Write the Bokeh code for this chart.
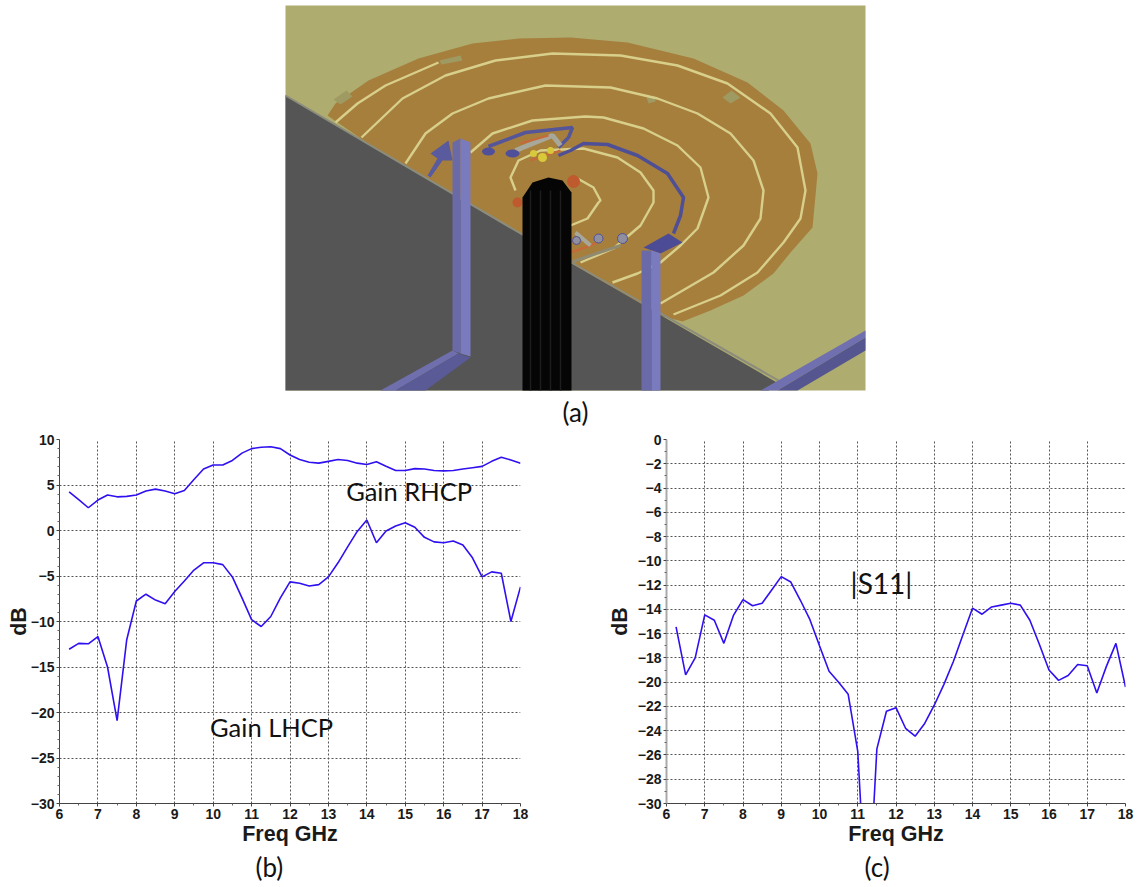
from bokeh.plotting import figure
from bokeh.layouts import column, row
from bokeh.embed import file_html
from bokeh.resources import INLINE
from bokeh.models import FixedTicker, Range1d, Title
from bokeh.core.properties import value

# ---------- chart data ----------
freq = [6.25 + 0.25 * i for i in range(48)]
gain_rhcp = [4.25, 3.4, 2.5, 3.35, 3.9, 3.7, 3.75, 3.9, 4.35, 4.55, 4.35, 4.05,
             4.4, 5.6, 6.75, 7.2, 7.2, 7.7, 8.5, 9.0, 9.15, 9.2, 9.0, 8.3,
             7.8, 7.5, 7.4, 7.6, 7.8, 7.7, 7.4, 7.25, 7.55, 7.05, 6.6, 6.6,
             6.8, 6.75, 6.6, 6.55, 6.6, 6.75, 6.9, 7.05, 7.6, 8.05, 7.75, 7.4]
gain_lhcp = [-13.05, -12.4, -12.45, -11.65, -15.0, -20.9, -12.0, -7.75, -7.0, -7.65, -8.05, -6.7,
             -5.55, -4.35, -3.55, -3.55, -3.75, -5.1, -7.4, -9.8, -10.55, -9.45, -7.4, -5.65,
             -5.8, -6.1, -5.95, -5.1, -3.55, -1.8, -0.1, 1.15, -1.35, -0.05, 0.5, 0.85,
             0.35, -0.75, -1.25, -1.35, -1.15, -1.6, -3.0, -5.1, -4.55, -4.7, -10.0, -6.2]
s11 = [-15.45, -19.4, -18.0, -14.45, -14.9, -16.8, -14.5, -13.2, -13.7, -13.5, -12.4, -11.3,
       -11.75, -13.25, -14.85, -17.0, -19.1, -20.0, -21.0, -25.7, -40.0, -25.5, -22.4, -22.1,
       -23.8, -24.45, -23.4, -21.9, -20.2, -18.3, -16.1, -13.9, -14.4, -13.8, -13.65, -13.5,
       -13.65, -14.9, -16.9, -19.0, -19.85, -19.45, -18.55, -18.65, -20.9, -18.7, -16.8, -20.4]
x_ticks = list(range(6, 19))
x_minor = [6.5 + i for i in range(12)]
b_ticks = [10, 5, 0, -5, -10, -15, -20, -25, -30]
b_minor = [v for v in range(-30, 11) if v % 5 != 0]
c_ticks = list(range(0, -31, -2))
c_minor = list(range(-1, -30, -2))

# ---------- illustration outline (a), in page pixels ----------
disk = [(327,115),(335,103),(368,80),(418,58),(472,43),(518,38),(570,37),(627,42),(693,58),(747,82),
        (783,110),(810,143),(817,173),(815,195),(812,227),(790,252),(773,273),(743,295),(710,310),
        (682,321),(600,300),(450,200)]
rings = [
    [(335,122),(357,103),(385,85),(438,62)],
    [(361,137),(402,98),(445,75),(495,60),(552,53),(620,55),(677,65),(727,83),(770,113),(797,147),
     (805,190),(800,218),(783,242),(757,272),(720,295),(673,314)],
    [(405,163),(425,133),(452,113),(488,98),(545,85),(610,87),(657,98),(697,113),(730,133),(753,160),
     (763,190),(760,218),(743,245),(713,272),(660,303)],
    [(470,152),(492,133),(532,120),(585,116),(603,117),(643,128),(677,145),(700,167),(708,197),
     (697,228),(680,245),(660,262),(637,273),(612,282)],
    [(515,190),(510,177),(518,160),(540,150),(583,148),(617,157),(640,172),(653,190),(653,202),
     (640,225),(613,248),(580,262)],
    [(577,178),(593,187),(600,200),(598,202),(587,218),(570,225)],
]
wedge = [(285,95),(527,237),(527,240),(571,263),(778,383),(768,390),(285,390)]
wedge_edge = [(285,95),(527,237),(571,262),(778,380)]
patches_a = [
    [(333,99),(346,90),(352,96),(340,104)],
    [(439,60),(460,55),(462,60),(441,64)],
    [(722,97),(731,90),(740,97),(730,103)],
    [(646,97),(654,95),(655,101),(648,103)],
]
xy = lambda pts, i: [q[i] for q in pts]


def ax_style(p, yticks, yminor, ylabel, label_standoff):
    for ax, maj, mnr in ((p.xaxis[0], x_ticks, x_minor), (p.yaxis[0], yticks, yminor)):
        ax.ticker = FixedTicker(ticks=maj, minor_ticks=mnr)
        ax.major_label_text_font = "Liberation Sans"
        ax.major_label_text_font_style = "bold"
        ax.major_label_text_font_size = "14px"
        ax.major_label_text_color = "#1a1a1a"
        ax.major_tick_out = 3
        ax.major_tick_in = 0
        ax.minor_tick_out = 2
        ax.minor_tick_in = 0
        ax.major_tick_line_color = "#444444"
        ax.minor_tick_line_color = "#666666"
        ax.axis_line_color = "#444444"
        ax.axis_label_text_font = "Liberation Sans"
        ax.axis_label_text_font_style = "bold"
        ax.axis_label_text_font_size = "21.5px"
        ax.axis_label_text_color = "#1a1a1a"
    p.xaxis[0].axis_label = "Freq GHz"
    p.yaxis[0].axis_label = ylabel
    p.xaxis[0].major_label_standoff = 2
    p.yaxis[0].major_label_standoff = 2
    p.xaxis[0].axis_label_standoff = 0
    p.yaxis[0].axis_label_standoff = label_standoff
    for g in (p.xgrid[0], p.ygrid[0]):
        g.grid_line_color = "#555555"
        g.grid_line_dash = "2 2"
        g.grid_line_width = 1
    p.xgrid[0].ticker = FixedTicker(ticks=x_ticks)
    p.ygrid[0].ticker = FixedTicker(ticks=yticks)
    p.outline_line_color = None
    p.background_fill_color = "white"


def word(p, x, y, text, size="25.5px"):
    p.text([x], [y], text=[text], text_font=value("Lato"), text_font_size=size,
           text_align="center", text_baseline="middle", text_color="#111111")


def caption(p, text, offset):
    p.add_layout(Title(text=text, align="left", offset=offset, text_font="Lato", text_font_size="26px",
                       text_font_style="normal", text_color="#111111", standoff=0), "below")


BLUE = "#2f10f0"

# ---------- (a) ----------
pa = figure(width=1141, height=428, x_range=Range1d(0, 1141), y_range=Range1d(428, 0),
            output_backend="svg", toolbar_location=None, min_border=0)
pa.axis.visible = False
pa.grid.visible = False
pa.outline_line_color = None
pa.quad(left=[285], right=[865], top=[5], bottom=[390], fill_color="#aeac6f", line_color=None)
pa.patch(xy(disk, 0), xy(disk, 1), fill_color="#a67f3d", line_color=None)
pa.patches([xy(q, 0) for q in patches_a], [xy(q, 1) for q in patches_a], fill_color="#9f9a62", line_color=None)
pa.multi_line([xy(r, 0) for r in rings], [xy(r, 1) for r in rings], line_color="#d8cf8b", line_width=2.4)
# centre details behind cylinder
pa.scatter([517, 573], [202, 181], size=[10, 13], fill_color="#bf5a2e", line_color=None)
pa.patch(xy(wedge, 0), xy(wedge, 1), fill_color="#555555", line_color=None)
pa.line(xy(wedge_edge, 0), xy(wedge_edge, 1), line_color="#8c8c7c", line_width=2)
# feed line and circuits
feed = [(673,233),(680,215),(683,197),(667,173),(637,155),(607,144),(583,143),(570,150),(558,155)]
pa.line(xy(feed, 0), xy(feed, 1), line_color="#4f4f95", line_width=3.5)
arc = [(488,146),(525,132),(572,127),(568,137),(558,147)]
pa.line(xy(arc, 0), xy(arc, 1), line_color="#55559a", line_width=3.5)
inner = [(515,150),(552,135),(560,145)]
pa.line(xy(inner, 0), xy(inner, 1), line_color="#a8a89a", line_width=5)
pa.ellipse([488, 512], [151, 153], width=[13, 14], height=[8, 8], fill_color="#50509a", line_color=None)
pa.multi_line([[520, 548], [530, 560]], [[143, 135], [160, 150]], line_color="#c8673a", line_width=2)
pa.scatter([533, 542, 550], [153, 157, 150], size=[7, 9, 7], fill_color="#d7c93a", line_color=None)
low = [(570,262),(590,255),(620,245)]
pa.line(xy(low, 0), xy(low, 1), line_color="#8f8a70", line_width=3)
low2 = [(570,252),(590,245),(600,240)]
pa.line(xy(low2, 0), xy(low2, 1), line_color="#c8673a", line_width=2)
low3 = [(575,232),(590,245)]
pa.line(xy(low3, 0), xy(low3, 1), line_color="#a8a89a", line_width=4)
pa.scatter([598, 622, 576], [238, 238, 240], size=[9, 10, 8], fill_color="#8f8f9f", line_color="#50509a")
# cylinder
cyl = [(522,390),(522,197),(532,182),(548,177),(562,180),(571,192),(571,390)]
pa.patch(xy(cyl, 0), xy(cyl, 1), fill_color="#050505", line_color=None)
pa.segment([530, 540, 550, 560], [190, 190, 190, 190], [530, 540, 550, 560], [390, 390, 390, 390],
           line_color="#1d1d1d", line_width=1.5)
# pads
foot = [(430,153),(448,140),(452,160),(442,160),(430,177),(427,175),(437,158)]
pad = [(643,247),(668,233),(682,242),(660,253)]
pa.patch(xy(foot, 0), xy(foot, 1), fill_color="#5a5a9e", line_color=None)
pa.patch(xy(pad, 0), xy(pad, 1), fill_color="#4c4c96", line_color=None)
# posts and bars
polys = [
    ([(452,142),(460,138),(460,353),(452,350)], "#6a6aa8"),
    ([(460,138),(470,142),(470,356),(460,353)], "#7a7abf"),
    ([(452,350),(458,353),(395,390),(380,390)], "#6f6fae"),
    ([(458,353),(470,357),(425,390),(395,390)], "#5a5a96"),
    ([(641,250),(651,250),(651,390),(641,390)], "#6a6aa8"),
    ([(651,250),(660,253),(660,390),(651,390)], "#7a7abf"),
    ([(865,330),(865,337),(777,390),(760,390)], "#7070b0"),
    ([(865,337),(865,350),(797,390),(777,390)], "#55558f"),
]
pa.patches([xy(q, 0) for q, _ in polys], [xy(q, 1) for q, _ in polys],
           fill_color=[c for _, c in polys], line_color=None)
word(pa, 575, 411, "(a)", "26px")

# ---------- (b) ----------
pb = figure(width=598, height=459, x_range=Range1d(6, 18), y_range=Range1d(-30, 10),
            output_backend="svg", toolbar_location=None,
            min_border_left=59, min_border_right=78, min_border_top=11, min_border_bottom=84)
ax_style(pb, b_ticks, b_minor, "dB", -3)
pb.line(freq, gain_rhcp, line_color=BLUE, line_width=1.6)
pb.line(freq, gain_lhcp, line_color=BLUE, line_width=1.6)
word(pb, 15.1, 4.3, "Gain RHCP")
word(pb, 11.52, -21.6, "Gain LHCP")
caption(pb, "(b)", 196)

# ---------- (c) ----------
pc = figure(width=543, height=459, x_range=Range1d(6, 18), y_range=Range1d(-30, 0),
            output_backend="svg", toolbar_location=None,
            min_border_left=68, min_border_right=16, min_border_top=11, min_border_bottom=84)
ax_style(pc, c_ticks, c_minor, "dB", 3)
pc.yaxis[0].axis_line_color = "#aaaaaa"
pc.yaxis[0].axis_line_width = 2
pc.line(freq, s11, line_color=BLUE, line_width=1.6)
word(pc, 11.62, -11.84, "|S11|", "28px")
caption(pc, "(c)", 198)

layout = column(pa, row(pb, pc, spacing=0), spacing=0)
open("out.html", "w").write(file_html(layout, INLINE))
